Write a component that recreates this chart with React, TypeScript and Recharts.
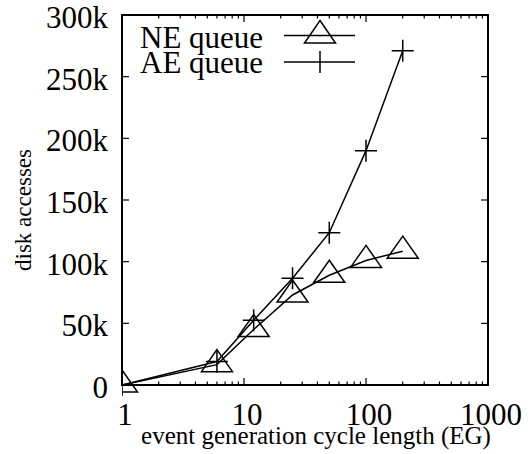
import React from 'react';
import { LineChart, Line, XAxis, YAxis, ReferenceArea } from 'recharts';

// event generation cycle length (EG)
const egValues = [1, 6, 12, 25, 50, 100, 200];
// disk accesses
const neQueue = [0, 16500, 45000, 73000, 89000, 101000, 108500];
const aeQueue = [0, 19000, 52500, 86500, 123500, 190000, 271000];

const xMajorTicks = [1, 10, 100, 1000];
const xMinorTicks = [2, 3, 4, 5, 6, 7, 8, 9, 20, 30, 40, 50, 60, 70, 80, 90, 200, 300, 400, 500, 600, 700, 800, 900];
const yTicks = [0, 50000, 100000, 150000, 200000, 250000, 300000];

const data = egValues.map((eg, i) => ({ eg, ne: neQueue[i], ae: aeQueue[i] }));

const W = 531;
const H = 454;
const PLOT_LEFT = 122;
const PLOT_RIGHT = 488;
const PLOT_TOP = 15;
const PLOT_BOTTOM = 385;
const FONT = '"Liberation Serif", "Times New Roman", serif';

const fmtK = (v: number) => (v === 0 ? '0' : `${v / 1000}k`);

function XTick(props: any) {
    const { x, payload } = props;
    const major = xMajorTicks.includes(payload.value);
    const len = major ? 7 : 3.5;
    return (
        <g>
            <line x1={x} x2={x} y1={PLOT_BOTTOM} y2={PLOT_BOTTOM - len} stroke="#000" strokeWidth={1.2} />
            <line x1={x} x2={x} y1={PLOT_TOP} y2={PLOT_TOP + len} stroke="#000" strokeWidth={1.2} />
            {major && (
                <text x={x + 3} y={PLOT_BOTTOM + 40} textAnchor="middle" fontSize={31} fontFamily={FONT} fill="#000">
                    {payload.value}
                </text>
            )}
        </g>
    );
}

function YTick(props: any) {
    const { y, payload } = props;
    return (
        <g>
            <line x1={PLOT_LEFT} x2={PLOT_LEFT + 7} y1={y} y2={y} stroke="#000" strokeWidth={1.2} />
            <line x1={PLOT_RIGHT} x2={PLOT_RIGHT - 7} y1={y} y2={y} stroke="#000" strokeWidth={1.2} />
            <text x={108} y={y + 13} textAnchor="end" fontSize={31} fontFamily={FONT} fill="#000">
                {fmtK(payload.value)}
            </text>
        </g>
    );
}

function TriangleDot(props: any) {
    const { cx, cy, index } = props;
    if (cx == null || cy == null) return <g key={`t${index}`} />;
    return (
        <path
            key={`t${index}`}
            d={`M${cx},${cy - 15} L${cx + 15.5},${cy + 7} L${cx - 15.5},${cy + 7} Z`}
            fill="none"
            stroke="#000"
            strokeWidth={1.5}
        />
    );
}

function PlusDot(props: any) {
    const { cx, cy, index } = props;
    if (cx == null || cy == null) return <g key={`p${index}`} />;
    return (
        <path
            key={`p${index}`}
            d={`M${cx - 11},${cy} H${cx + 11} M${cx},${cy - 11} V${cy + 11}`}
            fill="none"
            stroke="#000"
            strokeWidth={1.5}
        />
    );
}

export default function App() {
    return (
        <div style={{ position: 'absolute', left: 0, top: 0, width: W, height: H, background: '#fff' }}>
            <LineChart
                width={W}
                height={H}
                data={data}
                margin={{ top: PLOT_TOP, right: W - PLOT_RIGHT, left: 0, bottom: 0 }}
            >
                <XAxis
                    dataKey="eg"
                    type="number"
                    scale="log"
                    domain={[1, 1000]}
                    ticks={[...xMajorTicks, ...xMinorTicks]}
                    interval={0}
                    allowDataOverflow
                    axisLine={false}
                    tickLine={false}
                    height={H - PLOT_BOTTOM}
                    tick={XTick}
                />
                <YAxis
                    type="number"
                    domain={[0, 300000]}
                    ticks={yTicks}
                    interval={0}
                    axisLine={false}
                    tickLine={false}
                    width={PLOT_LEFT}
                    tick={YTick}
                />
                <ReferenceArea x1={1} x2={1000} y1={0} y2={300000} fill="none" stroke="#000" strokeWidth={2} />
                <Line
                    dataKey="ne"
                    type="linear"
                    stroke="#000"
                    strokeWidth={1.5}
                    dot={TriangleDot}
                    isAnimationActive={false}
                />
                <Line
                    dataKey="ae"
                    type="linear"
                    stroke="#000"
                    strokeWidth={1.5}
                    dot={PlusDot}
                    isAnimationActive={false}
                />
            </LineChart>
            <svg
                width={W}
                height={H}
                style={{ position: 'absolute', left: 0, top: 0, pointerEvents: 'none' }}
            >
                <text x={140} y={48} fontSize={31} fontFamily={FONT} fill="#000">NE queue</text>
                <line x1={284} x2={355} y1={35.5} y2={35.5} stroke="#000" strokeWidth={1.5} />
                <path d="M320,20.5 L335.5,43 L304.5,43 Z" fill="none" stroke="#000" strokeWidth={1.5} />
                <text x={140} y={73} fontSize={31} fontFamily={FONT} fill="#000">AE queue</text>
                <line x1={284} x2={355} y1={62} y2={62} stroke="#000" strokeWidth={1.5} />
                <line x1={320} x2={320} y1={51} y2={73} stroke="#000" strokeWidth={1.5} />
                <text
                    x={23}
                    y={210}
                    transform="rotate(-90 23 210)"
                    textAnchor="middle"
                    dominantBaseline="central"
                    fontSize={23}
                    fontFamily={FONT}
                    fill="#000"
                >
                    disk accesses
                </text>
                <text x={316} y={444} textAnchor="middle" fontSize={25} fontFamily={FONT} fill="#000">
                    event generation cycle length (EG)
                </text>
            </svg>
        </div>
    );
}
